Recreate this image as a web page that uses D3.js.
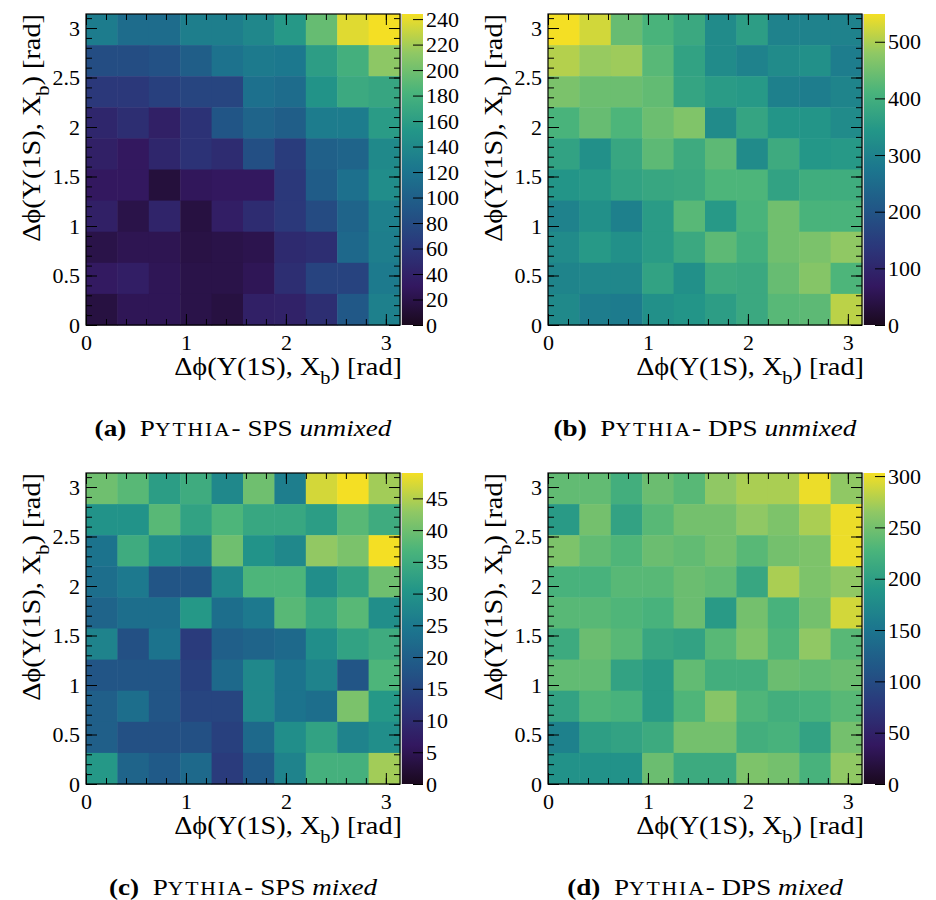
<!DOCTYPE html>
<html><head><meta charset="utf-8">
<script src="https://cdn.jsdelivr.net/npm/d3@7"></script>
<style>
body{margin:0;background:#fff}
text{font-family:"Liberation Serif","Times New Roman",serif;fill:#000}
</style>
</head><body>
<svg id="chart" width="936" height="900"></svg>
<script>
// ---------------- data (rows listed from the top bin, Δφ≈3, down to the bottom bin, Δφ≈0) ----------------
const nBins = 10;
const xTickValues = [0, 1, 2, 3];
const yTickValues = [0, 0.5, 1, 1.5, 2, 2.5, 3];

const spsUnmixed = [
  [128,112,112,130,130,138,155,195,238,244],
  [ 82, 82, 86, 98,118,126,124,160,178,212],
  [ 62, 62, 70, 74, 74,116,112,150,172,168],
  [ 44, 52, 38, 56, 90,104, 98,128,128,158],
  [ 38, 30, 44, 56, 50, 84, 66,100,104,140],
  [ 30, 30, 14, 28, 30, 30, 62, 96,116,144],
  [ 38, 20, 42, 16, 36, 50, 62, 80,104,132],
  [ 20, 24, 24, 18, 20, 22, 48, 52,108,130],
  [ 32, 36, 26, 20, 20, 26, 52, 72, 72,126],
  [ 16, 26, 26, 20, 16, 38, 40, 52, 92,132]
];
const dpsUnmixed = [
  [549,525,440,410,385,320,360,300,300,300],
  [505,485,490,425,370,320,300,320,330,290],
  [460,445,445,435,375,355,350,295,290,305],
  [410,440,415,445,465,320,375,340,340,320],
  [370,330,380,430,390,430,320,390,345,350],
  [340,350,370,380,385,415,415,370,395,395],
  [300,330,295,355,425,350,410,450,410,410],
  [320,350,330,355,385,430,400,450,460,480],
  [305,310,310,370,330,390,385,440,470,415],
  [315,290,285,330,340,360,385,425,430,510]
];
const spsMixed = [
  [40,38,32,35,28,40,26,47,49,44],
  [30,30,38,33,37,34,34,32,38,35],
  [24,35,29,27,40,30,28,43,41,49],
  [23,25,18,18,28,37,37,29,33,40],
  [21,23,23,31,23,25,38,34,38,29],
  [27,17,24,13,20,21,22,29,33,35],
  [18,18,18,14,22,28,24,27,18,37],
  [20,23,18,15,15,28,24,23,41,31],
  [20,17,17,17,14,22,29,33,27,29],
  [31,21,19,22,13,19,27,36,36,44]
];
const dpsMixed = [
  [240,240,220,245,235,265,275,275,300,265],
  [195,250,205,235,250,250,265,255,275,300],
  [255,240,230,245,240,250,235,250,255,300],
  [225,225,235,235,245,240,210,275,255,265],
  [235,235,230,225,245,195,250,225,250,290],
  [215,245,235,210,205,235,255,230,265,235],
  [240,240,205,195,240,220,220,245,240,245],
  [205,230,225,195,230,260,230,220,225,235],
  [165,200,205,215,250,250,220,225,205,250],
  [185,185,185,245,215,215,255,250,225,265]
];

const zMaxValues = [244, 549, 49, 303];
const zTicksA = [0,20,40,60,80,100,120,140,160,180,200,220,240];
const zTicksB = [0,100,200,300,400,500];
const zTicksC = [0,5,10,15,20,25,30,35,40,45];
const zTicksD = [0,50,100,150,200,250,300];

const captionLetters = ["(a)", "(b)", "(c)", "(d)"];
const captionModels = ["SPS", "DPS", "SPS", "DPS"];
const captionModes = ["unmixed", "unmixed", "mixed", "mixed"];

// ROOT kViridis palette stops
const paletteStops = ["#1a091e","#331860","#2b377a","#215787","#1c768e","#239688","#4ab47b","#90c864","#f4df24"];

// ---------------- drawing ----------------
const svg = d3.select("#chart");
const W = 314, H = 311;
const origins = [[86,14],[548,14],[86,473],[548,473]];
const datasets = [spsUnmixed, dpsUnmixed, spsMixed, dpsMixed];
const zTickSets = [zTicksA, zTicksB, zTicksC, zTicksD];
const palette = d3.scaleLinear().domain(d3.range(paletteStops.length).map(i => i/(paletteStops.length-1)))
  .range(paletteStops).interpolate(d3.interpolateRgb).clamp(true);

const defs = svg.append("defs");
const grad = defs.append("linearGradient").attr("id","pal").attr("x1",0).attr("y1",1).attr("x2",0).attr("y2",0);
d3.range(0,1.0001,0.025).forEach(t => grad.append("stop").attr("offset", t).attr("stop-color", palette(t)));

const tickFont = 22, titleFont = 25, capFont = 24;
const titleTarget = 228, captionTarget = 298;
let titleScale = null, capScale = null;

function addTitle(parent) {
  const t = parent.append("text").attr("text-anchor","end").attr("font-size", titleFont);
  t.append("tspan").text("Δϕ(Υ(1S), X");
  t.append("tspan").attr("dy", 9).attr("font-size", titleFont*0.72).text("b");
  t.append("tspan").attr("dy", -9).text(") [rad]");
  return t;
}

datasets.forEach((data, p) => {
  const [ox, oy] = origins[p];
  const g = svg.append("g").attr("transform", `translate(${ox},${oy})`);
  const x = d3.scaleLinear().domain([0, Math.PI]).range([0, W]);
  const y = d3.scaleLinear().domain([0, Math.PI]).range([H, 0]);
  const binW = Math.PI / nBins;
  const zmax = zMaxValues[p];

  const cells = [];
  data.forEach((row, r) => row.forEach((v, c) => cells.push({ix: c, iy: nBins - 1 - r, v})));
  g.selectAll("rect.cell").data(cells).join("rect").attr("class","cell")
    .attr("x", d => x(d.ix * binW))
    .attr("y", d => y((d.iy + 1) * binW))
    .attr("width", d => x((d.ix + 1) * binW) - x(d.ix * binW) + 0.5)
    .attr("height", d => y(d.iy * binW) - y((d.iy + 1) * binW) + 0.5)
    .attr("fill", d => palette(d.v / zmax));

  // axes with inward ticks (ROOT style)
  const xMinor = d3.range(0, 3.15, 0.2);
  const yMinor = d3.range(0, 3.15, 0.1);
  const styleAxis = sel => { sel.select(".domain").remove(); sel.selectAll("line").attr("stroke","#000").attr("stroke-width",1); };
  const styleText = sel => sel.selectAll("text").attr("font-size", tickFont).style("font-family","Liberation Serif");

  g.append("g").attr("transform", `translate(0,${H})`)
    .call(d3.axisBottom(x).tickValues(xMinor).tickSize(-6).tickFormat("")).call(styleAxis);
  g.append("g").attr("transform", `translate(0,${H})`)
    .call(d3.axisBottom(x).tickValues(xTickValues).tickSize(-11).tickPadding(9).tickFormat(d3.format("d")))
    .call(styleAxis).call(styleText);
  g.append("g").call(d3.axisTop(x).tickValues(xMinor).tickSize(-6).tickFormat("")).call(styleAxis);
  g.append("g").call(d3.axisTop(x).tickValues(xTickValues).tickSize(-11).tickFormat("")).call(styleAxis);

  g.append("g").call(d3.axisLeft(y).tickValues(yMinor).tickSize(-6).tickFormat("")).call(styleAxis);
  g.append("g").call(d3.axisLeft(y).tickValues(yTickValues).tickSize(-11).tickPadding(6).tickFormat(d => d3.format("~g")(d)))
    .call(styleAxis).call(styleText);
  g.append("g").attr("transform", `translate(${W},0)`)
    .call(d3.axisRight(y).tickValues(yMinor).tickSize(-6).tickFormat("")).call(styleAxis);
  g.append("g").attr("transform", `translate(${W},0)`)
    .call(d3.axisRight(y).tickValues(yTickValues).tickSize(-11).tickFormat("")).call(styleAxis);

  g.append("rect").attr("width", W).attr("height", H).attr("fill","none").attr("stroke","#000").attr("stroke-width",1.2);

  // colour bar
  const cbX = W + 2, cbW = 21;
  const z = d3.scaleLinear().domain([0, zmax]).range([H, 0]);
  g.append("rect").attr("x", cbX - 1).attr("y", 0).attr("width", 1).attr("height", H).attr("fill", "#c8c8c8");
  g.append("rect").attr("x", cbX).attr("y", 0).attr("width", cbW).attr("height", H).attr("fill", "url(#pal)");
  g.append("g").attr("transform", `translate(${cbX + cbW},0)`)
    .call(d3.axisRight(z).tickValues(zTickSets[p]).tickSize(-10).tickPadding(3))
    .call(styleAxis).call(styleText);

  // axis titles (right/top aligned as in ROOT)
  const xg = g.append("g");
  const xt = addTitle(xg);
  if (titleScale === null) titleScale = titleTarget / xt.node().getBBox().width;
  xg.attr("transform", `translate(${W + 2},${H + 50}) scale(${titleScale},1)`);

  const yg = g.append("g");
  addTitle(yg);
  yg.attr("transform", `translate(-46,0) rotate(-90) scale(${titleScale},1)`);

  // caption
  const cg = g.append("g");
  const cap = cg.append("text").attr("text-anchor","middle").attr("font-size", capFont);
  cap.append("tspan").attr("font-weight","bold").text(captionLetters[p]);
  cap.append("tspan").text("\u2002P");
  cap.append("tspan").attr("font-size", capFont*0.8).attr("letter-spacing", 1.6).text("YTHIA");
  cap.append("tspan").text("- " + captionModels[p] + " ");
  cap.append("tspan").attr("font-style","italic").text(captionModes[p]);
  if (capScale === null) capScale = captionTarget / cap.node().getBBox().width;
  cg.attr("transform", `translate(${W/2},${H + 111}) scale(${capScale},1)`);
});
</script>
</body></html>
